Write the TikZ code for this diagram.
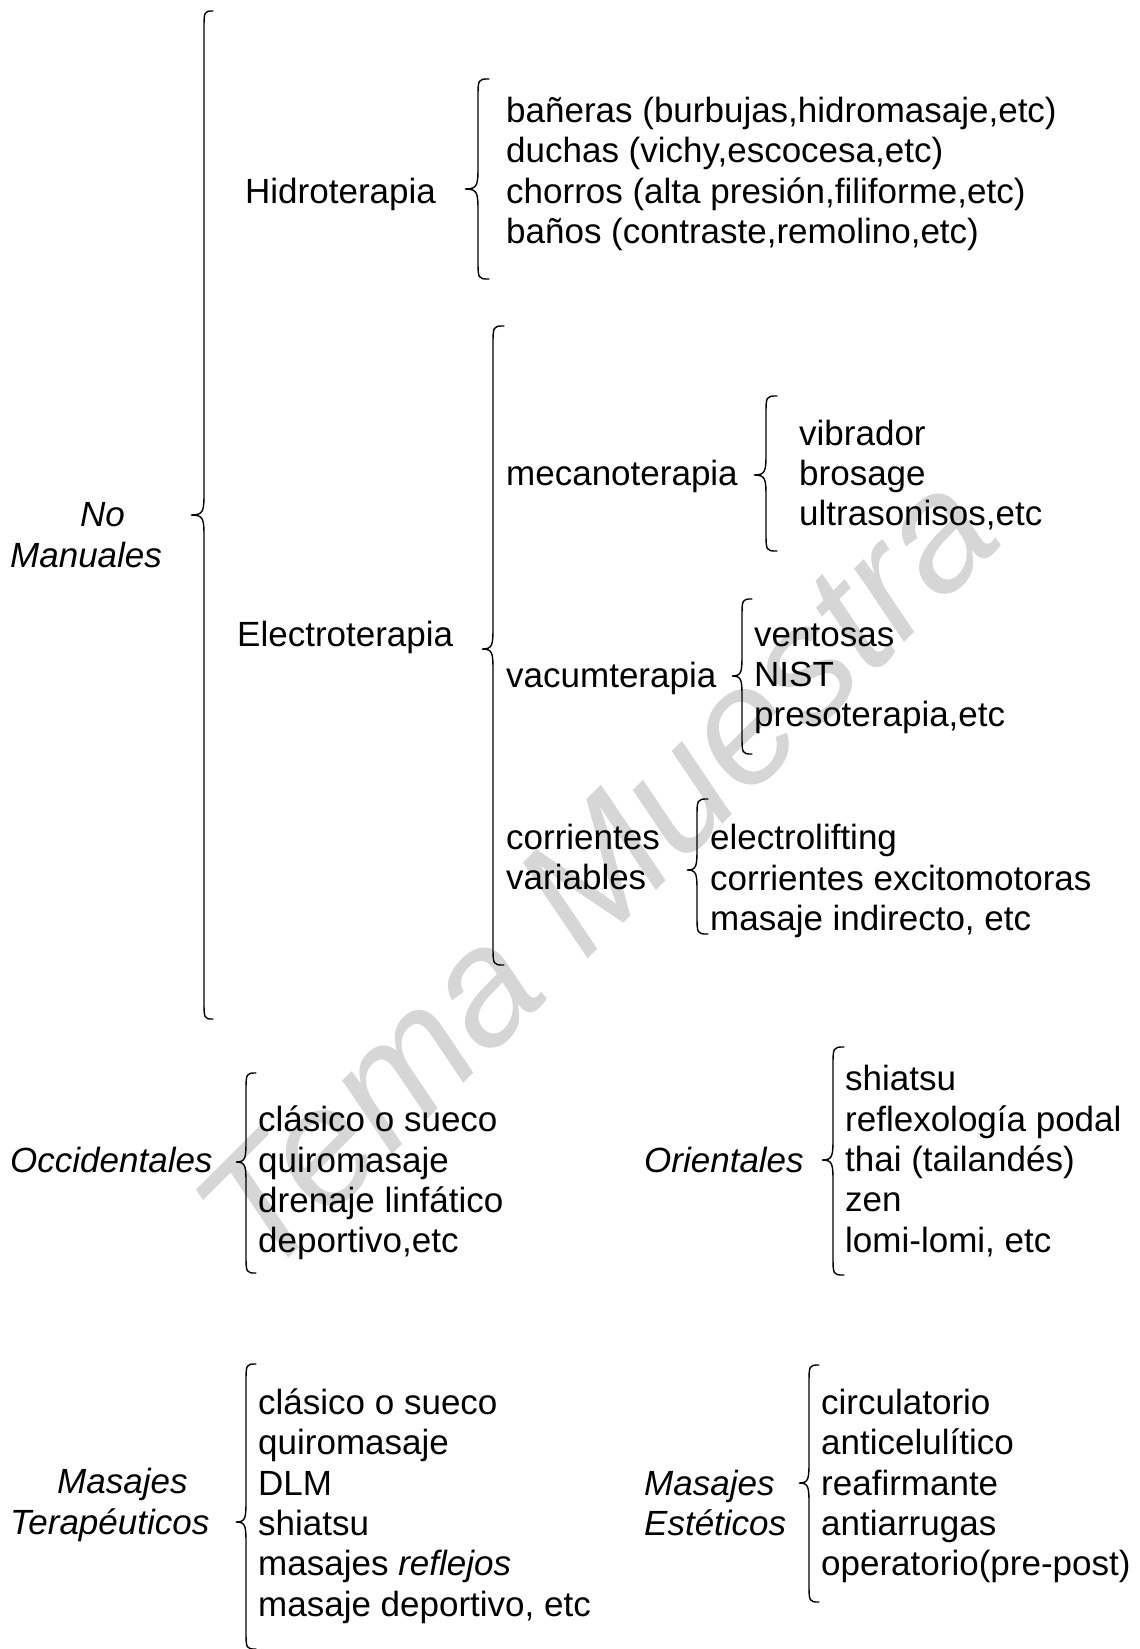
\documentclass[tikz,border=0pt]{standalone}
\usepackage{fontspec}
\setmainfont{Liberation Sans}
\newcommand\mybrace[6]{% tip x, stem x, end x, top y, tip y, bottom y
  \draw[brl] (#3,#4) .. controls (#2,#4) and (#2,#4) .. (#2,#4+20)
    -- (#2,#5-24) .. controls (#2,#5-4) and (#2,#5) .. (#1,#5)
    .. controls (#2,#5) and (#2,#5+4) .. (#2,#5+24)
    -- (#2,#6-20) .. controls (#2,#6) and (#2,#6) .. (#3,#6);}
\tikzset{
  txt/.style={anchor=west, inner sep=0pt, align=left, font=\fontsize{35}{40.3}\selectfont},
  cat/.style={inner sep=0pt, font=\fontsize{35}{40.3}\selectfont\itshape},
  brl/.style={line width=1.4pt, line cap=round},
  wmark/.style={text=black!16, inner sep=0pt, font=\fontsize{165}{165}\selectfont\itshape}
}
\begin{document}
\begin{tikzpicture}[x=1pt,y=-1pt]
\useasboundingbox (0,0) rectangle (1140,1649);
\node[wmark, rotate=45] (wm) at (596,872) {Tema Muestra};
% No Manuales
\node[cat, anchor=west, align=left] (nm) at (10,535) {\hspace*{70pt}No\\Manuales};
\mybrace{191}{204}{213}{11}{515}{1019}
\node[txt] (hid) at (245,194) {Hidroterapia};
\mybrace{465}{478}{489}{79}{189}{279}
\node[txt] (hidl) at (506,174) {bañeras (burbujas,hidromasaje,etc)\\duchas (vichy,escocesa,etc)\\chorros (alta presión,filiforme,etc)\\baños (contraste,remolino,etc)};
\node[txt] (ele) at (237,637) {Electroterapia};
\mybrace{482}{493}{504}{326}{649}{965}
\node[txt] (mec) at (506,476) {mecanoterapia};
\mybrace{754}{766}{777}{396}{475}{551}
\node[txt] (mecl) at (799,475) {vibrador\\brosage\\ultrasonisos,etc};
\node[txt] (vac) at (506,678) {vacumterapia};
\mybrace{732}{742}{752}{599}{676}{754}
\node[txt] (vacl) at (754,679) {ventosas\\NIST\\presoterapia,etc};
\node[txt] (cor) at (506,857) {corrientes\\variables};
\mybrace{687}{697}{708}{799}{870}{934}
\node[txt] (corl) at (710,881) {electrolifting\\corrientes excitomotoras\\masaje indirecto, etc};
% Occidentales / Orientales
\node[cat, anchor=west] (occ) at (10,1160) {Occidentales};
\mybrace{236}{246}{256}{1073}{1162}{1273}
\node[txt] (occl) at (258,1183) {clásico o sueco\\quiromasaje\\drenaje linfático\\deportivo,etc};
\node[cat, anchor=west] (ori) at (644,1160) {Orientales};
\mybrace{822}{833}{844}{1047}{1160}{1275}
\node[txt] (oril) at (845,1161) {shiatsu\\reflexología podal\\thai (tailandés)\\zen\\lomi-lomi, etc};
% Terapeuticos / Esteticos
\node[cat, anchor=west, align=left] (ter) at (10,1505) {\hspace*{47pt}Masajes\\Terapéuticos};
\mybrace{236}{246}{256}{1364}{1522}{1649}
\node[txt] (terl) at (258,1506) {clásico o sueco\\quiromasaje\\DLM\\shiatsu\\masajes \textit{reflejos}\\masaje deportivo, etc};
\node[cat, anchor=west, align=left] (est) at (644,1503) {Masajes\\Estéticos};
\mybrace{799}{809}{819}{1365}{1483}{1602}
\node[txt] (estl) at (821,1486) {circulatorio\\anticelulítico\\reafirmante\\antiarrugas\\operatorio(pre-post)};
\end{tikzpicture}
\end{document}
